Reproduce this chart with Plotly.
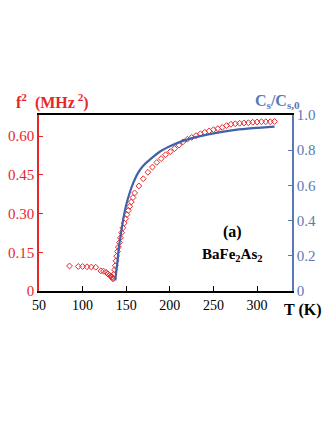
import plotly.graph_objects as go

# measured f^2 (left axis), open red diamonds
temp_f2 = [85, 95, 100, 105, 110, 115, 121, 124, 127, 129, 131, 132.5, 133.5, 134.3, 135,
           135.8, 136.6, 137.4, 138.2, 139, 140, 141, 142.2, 143.4, 144.8, 146.2, 147.7,
           149.2, 150.8, 152.4, 154, 155.8, 157.7, 159.6, 164.5, 169.5, 174.9, 180, 185,
           190, 195, 200.5, 205.5, 210.5, 215, 220, 225, 230, 235, 240, 245, 250, 255,
           260, 265, 270, 275, 280, 285, 290, 295, 300, 305, 310, 315, 320]
f2 = [0.097, 0.095, 0.095, 0.094, 0.093, 0.092, 0.078, 0.077, 0.072, 0.066, 0.061, 0.058,
      0.054, 0.050, 0.047, 0.065, 0.082, 0.098, 0.117, 0.135, 0.153, 0.170, 0.188, 0.206,
      0.226, 0.245, 0.263, 0.280, 0.296, 0.312, 0.328, 0.345, 0.362, 0.380, 0.407, 0.435,
      0.460, 0.480, 0.498, 0.513, 0.528, 0.540, 0.552, 0.565, 0.578, 0.588, 0.595, 0.602,
      0.609, 0.615, 0.620, 0.625, 0.629, 0.634, 0.641, 0.646, 0.648, 0.650, 0.651, 0.652,
      0.654, 0.655, 0.656, 0.656, 0.656, 0.657]

# Cs/Cs,0 (right axis), blue line
temp_cs = [137.5, 138.5, 139.8, 141.6, 144.4, 147, 150, 153.9, 157.7, 163.4, 169, 176.8,
           188, 200, 215, 235, 255, 275, 295, 320]
cs_ratio = [0.06, 0.11, 0.16, 0.25, 0.34, 0.42, 0.49, 0.557, 0.61, 0.67, 0.709, 0.745,
            0.79, 0.822, 0.853, 0.88, 0.90, 0.915, 0.925, 0.934]

x_ticks = [50, 100, 150, 200, 250, 300]
left_ticks = [0, 0.15, 0.30, 0.45, 0.60]
left_labels = ["0", "0.15", "0.30", "0.45", "0.60"]
right_ticks = [0, 0.2, 0.4, 0.6, 0.8, 1.0]
right_labels = ["0", "0.2", "0.4", "0.6", "0.8", "1.0"]

RED = "#e8262a"
BLUE = "#3f62a8"
AXBLUE = "#5a78b8"
FONT = "Liberation Serif"

fig = go.Figure()
fig.add_trace(go.Scatter(x=temp_f2, y=f2, mode="markers", yaxis="y",
                         marker=dict(symbol="diamond-open", size=4.5, color=RED,
                                     line=dict(width=1, color=RED))))
fig.add_trace(go.Scatter(x=temp_cs, y=cs_ratio, mode="lines", yaxis="y2",
                         line=dict(color=BLUE, width=2.2, shape="spline")))

fig.update_layout(
    width=332, height=430,
    margin=dict(l=39, r=40, t=115, b=139, autoexpand=False),
    paper_bgcolor="white", plot_bgcolor="white",
    showlegend=False,
    font=dict(family=FONT, size=14, color="black"),
    xaxis=dict(range=[50, 340], tickvals=x_ticks, ticks="inside", ticklen=5,
               tickcolor="black", showline=True, linecolor="black", linewidth=1.5,
               mirror=True, showgrid=False, zeroline=False,
               tickfont=dict(family=FONT, size=14, color="black")),
    yaxis=dict(range=[0, 0.682], tickvals=left_ticks, ticktext=left_labels,
               ticks="inside", ticklen=4, tickcolor=RED, showline=True,
               linecolor=RED, linewidth=1.5, showgrid=False, zeroline=False,
               tickfont=dict(family=FONT, size=15, color=RED)),
    yaxis2=dict(range=[0, 1.0], tickvals=right_ticks, ticktext=right_labels,
                overlaying="y", side="right", ticks="inside", ticklen=4,
                tickcolor=AXBLUE, showline=True, linecolor=AXBLUE, linewidth=1.5,
                showgrid=False, zeroline=False,
                tickfont=dict(family=FONT, size=15, color=AXBLUE)),
)

fig.add_annotation(text="<b>f<sup>2</sup>  (MHz<sup> 2</sup>)</b>", xref="paper", yref="paper",
                   x=-0.1, y=1.075, xanchor="left", yanchor="middle", showarrow=False,
                   font=dict(family=FONT, size=16, color=RED))
fig.add_annotation(text="<b>C<sub>s</sub>/C<sub>s,0</sub></b>", xref="paper", yref="paper",
                   x=1.04, y=1.075, xanchor="right", yanchor="middle", showarrow=False,
                   font=dict(family=FONT, size=16, color=AXBLUE))
fig.add_annotation(text="<b>T (K)</b>", xref="paper", yref="paper",
                   x=1.041, y=-0.108, xanchor="center", yanchor="middle", showarrow=False,
                   font=dict(family=FONT, size=16, color="black"))
fig.add_annotation(text="<b>(a)</b>", xref="x", yref="paper",
                   x=272, y=0.272, showarrow=False,
                   font=dict(family=FONT, size=16, color="black"))
fig.add_annotation(text="<b>BaFe<sub>2</sub>As<sub>2</sub></b>", xref="x", yref="paper",
                   x=272, y=0.142, showarrow=False,
                   font=dict(family=FONT, size=15, color="black"))

fig.write_html("out.html", config={"displayModeBar": False},
               post_script="document.body.style.margin='0';")
